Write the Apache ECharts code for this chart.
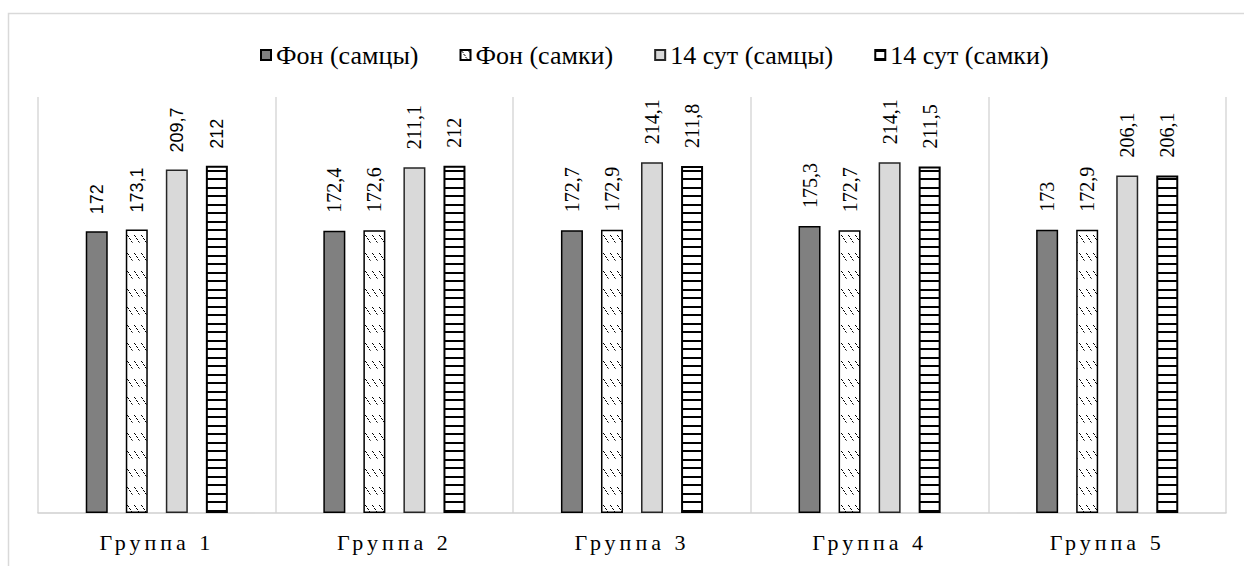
<!DOCTYPE html>
<html>
<head>
<meta charset="utf-8">
<script src="https://cdn.jsdelivr.net/npm/echarts@6/dist/echarts.min.js"></script>
<style>
html,body{margin:0;padding:0;background:#fff;}
#chart{width:1244px;height:566px;}
</style>
</head>
<body>
<div id="chart"></div>
<script>
const categories = ['Группа 1', 'Группа 2', 'Группа 3', 'Группа 4', 'Группа 5'];
const seriesNames = ['Фон (самцы)', 'Фон (самки)', '14 сут (самцы)', '14 сут (самки)'];
const fonMales = [172, 172.4, 172.7, 175.3, 173];
const fonFemales = [173.1, 172.6, 172.9, 172.7, 172.9];
const day14Males = [209.7, 211.1, 214.1, 214.1, 206.1];
const day14Females = [212, 212, 211.8, 211.5, 206.1];

function makeTile(w, h, draw) {
  const c = document.createElement('canvas');
  c.width = w; c.height = h;
  const ctx = c.getContext('2d');
  ctx.fillStyle = '#fff';
  ctx.fillRect(0, 0, w, h);
  draw(ctx);
  return { image: c.toDataURL(), repeat: 'repeat', imageWidth: w, imageHeight: h };
}
const dotPattern = makeTile(7, 18, ctx => {
  ctx.fillStyle = '#000';
  ctx.fillRect(1, 1, 1, 1);
  ctx.fillRect(2, 2, 1, 1);
  ctx.fillRect(3, 4, 1, 1);
  ctx.fillRect(4, 5, 1, 1);
  ctx.fillRect(5, 7, 1, 1);
  ctx.fillStyle = '#666';
  ctx.fillRect(6, 8, 1, 1);
});
const linePattern = makeTile(9, 17, ctx => {
  ctx.fillStyle = '#000';
  ctx.fillRect(0, 0, 9, 2);
  ctx.fillRect(0, 8, 9, 2);
});

const sansFont = "'Liberation Sans', Arial, sans-serif";
const serifFont = "'Liberation Serif', 'Times New Roman', serif";

function buildData(values) {
  return values.map((v, i) => ({
    value: v,
    label: i === 0
      ? { fontFamily: sansFont, fontSize: 18, distance: 17 }
      : { fontFamily: serifFont, fontSize: 20, distance: 18 }
  }));
}

const labelCfg = {
  show: true,
  position: 'top',
  rotate: 90,
  align: 'left',
  verticalAlign: 'middle',
  distance: 18,
  color: '#000',
  formatter: p => String(p.value).replace('.', ',')
};

const styles = [
  { color: '#808080', borderColor: '#000', borderWidth: 1.5 },
  { color: dotPattern, borderColor: '#000', borderWidth: 1.5 },
  { color: '#d9d9d9', borderColor: '#262626', borderWidth: 1.5 },
  { color: linePattern, borderColor: '#000', borderWidth: 2 }
];
const valuesList = [fonMales, fonFemales, day14Males, day14Females];

const chart = echarts.init(document.getElementById('chart'), null, { renderer: 'svg' });
chart.setOption({
  animation: false,
  backgroundColor: '#fff',
  graphic: [{
    type: 'rect',
    shape: { x: 8.5, y: 13.5, width: 1400, height: 700 },
    style: { fill: 'none', stroke: '#d9d9d9', lineWidth: 1.5 },
    silent: true
  }],
  legend: {
    data: seriesNames,
    left: 255,
    top: 37,
    icon: 'rect',
    itemWidth: 10,
    itemHeight: 10,
    itemGap: 41,
    textStyle: { fontFamily: serifFont, fontSize: 26, color: '#000' }
  },
  grid: { left: 38, right: 18, top: 97, bottom: 53, containLabel: false },
  xAxis: {
    type: 'category',
    data: categories,
    axisTick: { show: false },
    axisLine: { lineStyle: { color: '#d0d0d0', width: 1.5 } },
    splitLine: { show: true, lineStyle: { color: '#d9d9d9', width: 1.5 } },
    axisLabel: { fontFamily: serifFont, fontSize: 22, color: '#000', margin: 18 }
  },
  yAxis: {
    type: 'value',
    min: 0,
    max: 254,
    show: false,
    splitLine: { show: false }
  },
  series: valuesList.map((vals, k) => ({
    name: seriesNames[k],
    type: 'bar',
    barWidth: 22,
    barGap: '82%',
    data: buildData(vals),
    itemStyle: styles[k],
    label: labelCfg
  }))
});

function spaceLabels() {
  const texts = document.querySelectorAll('#chart svg text');
  texts.forEach(t => {
    if (/^Группа/.test(t.textContent)) {
      t.setAttribute('letter-spacing', '4');
    }
  });
}
spaceLabels();
chart.on('finished', spaceLabels);
</script>
</body>
</html>
